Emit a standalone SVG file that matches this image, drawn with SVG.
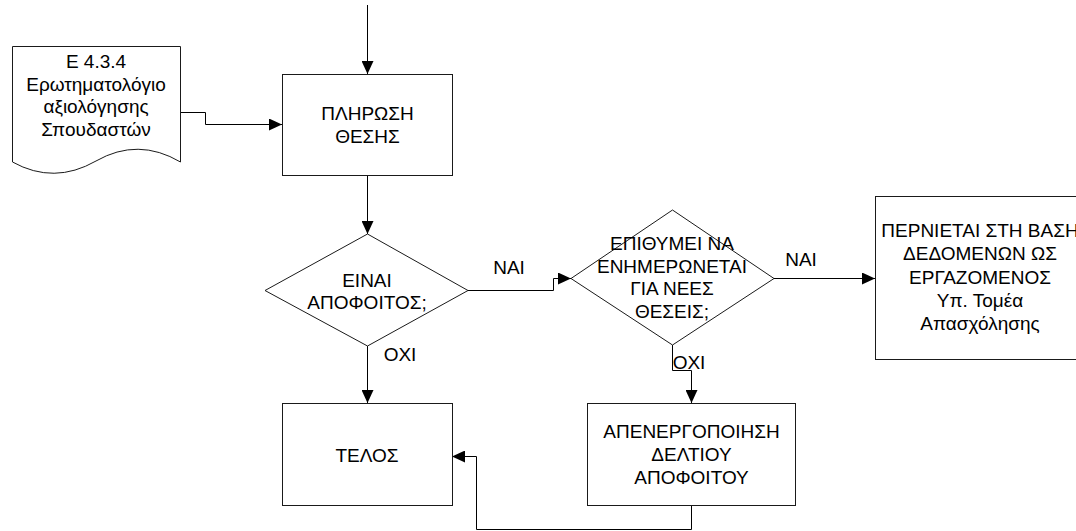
<svg xmlns="http://www.w3.org/2000/svg" width="1076" height="531" viewBox="0 0 1076 531">
  <style>
    .shape { fill: #ffffff; stroke: #1a1a1a; stroke-width: 1; }
    .conn { fill: none; stroke: #000000; stroke-width: 1; }
    text { font-family: "Liberation Sans", Arial, sans-serif; font-size: 19px; fill: #000000; text-anchor: middle; }
  </style>
  <defs>
    <marker id="arrow" viewBox="0 0 13 12" refX="13" refY="6" markerWidth="13" markerHeight="12" markerUnits="userSpaceOnUse" orient="auto">
      <path d="M0,0 L13,6 L0,12 Z" fill="#000000"/>
    </marker>
  </defs>
  <rect width="1076" height="531" fill="#ffffff"/>

  <!-- connectors -->
  <g id="connectors">
    <path class="conn" d="M367.5,5 V74" marker-end="url(#arrow)"/>
    <path class="conn" d="M180,112.5 H205.5 V124.5 H282" marker-end="url(#arrow)"/>
    <path class="conn" d="M367.5,175 V234" marker-end="url(#arrow)"/>
    <path class="conn" d="M468,290.5 H553.5 V278.5 H571" marker-end="url(#arrow)"/>
    <path class="conn" d="M367.5,346 V403" marker-end="url(#arrow)"/>
    <path class="conn" d="M774,278.5 H875" marker-end="url(#arrow)"/>
    <path class="conn" d="M672.5,345 V370.5 H691.5 V403" marker-end="url(#arrow)"/>
    <path class="conn" d="M691.5,505 V529.5 H476.5 V456.5 H452" marker-end="url(#arrow)"/>
    <text x="509" y="274">ΝΑΙ</text>
    <text x="400" y="361">ΟΧΙ</text>
    <text x="801" y="266">ΝΑΙ</text>
    <text x="689" y="369">ΟΧΙ</text>
  </g>

  <!-- document: questionnaire -->
  <g id="doc-questionnaire">
    <path class="shape" d="M12.5,46.5 H180.5 V162 Q138,137 96,161 Q54,185 12.5,162 Z"/>
    <text x="96" y="68">Ε 4.3.4</text>
    <text x="96" y="90.5">Ερωτηματολόγιο</text>
    <text x="96" y="113">αξιολόγησης</text>
    <text x="96" y="135.5">Σπουδαστών</text>
  </g>

  <g id="fill-position">
    <rect class="shape" x="282.5" y="74.5" width="170" height="101"/>
    <text x="367.5" y="120">ΠΛΗΡΩΣΗ</text>
    <text x="367.5" y="143">ΘΕΣΗΣ</text>
  </g>

  <g id="is-graduate">
    <path class="shape" d="M367.5,234 L468,290.5 L367.5,346 L265,290.5 Z"/>
    <text x="367" y="287">ΕΙΝΑΙ</text>
    <text x="367" y="309">ΑΠΟΦΟΙΤΟΣ;</text>
  </g>

  <g id="wants-updates">
    <path class="shape" d="M672.5,210 L774,278.5 L672.5,345 L571,278.5 Z"/>
    <text x="672" y="250">ΕΠΙΘΥΜΕΙ ΝΑ</text>
    <text x="672" y="272.5">ΕΝΗΜΕΡΩΝΕΤΑΙ</text>
    <text x="672" y="295">ΓΙΑ ΝΕΕΣ</text>
    <text x="672" y="317.5">ΘΕΣΕΙΣ;</text>
  </g>

  <g id="register-employed">
    <rect class="shape" x="875.5" y="196.5" width="210" height="163"/>
    <text x="980" y="237">ΠΕΡΝΙΕΤΑΙ ΣΤΗ ΒΑΣΗ</text>
    <text x="980" y="260.3">ΔΕΔΟΜΕΝΩΝ ΩΣ</text>
    <text x="980" y="283.6">ΕΡΓΑΖΟΜΕΝΟΣ</text>
    <text x="980" y="306.9">Υπ. Τομέα</text>
    <text x="980" y="330.2">Απασχόλησης</text>
  </g>

  <g id="end">
    <rect class="shape" x="282.5" y="403.5" width="170" height="102"/>
    <text x="367" y="462">ΤΕΛΟΣ</text>
  </g>

  <g id="deactivate-record">
    <rect class="shape" x="587.5" y="403.5" width="208" height="102"/>
    <text x="691.5" y="438">ΑΠΕΝΕΡΓΟΠΟΙΗΣΗ</text>
    <text x="691.5" y="461">ΔΕΛΤΙΟΥ</text>
    <text x="691.5" y="484">ΑΠΟΦΟΙΤΟΥ</text>
  </g>
</svg>
